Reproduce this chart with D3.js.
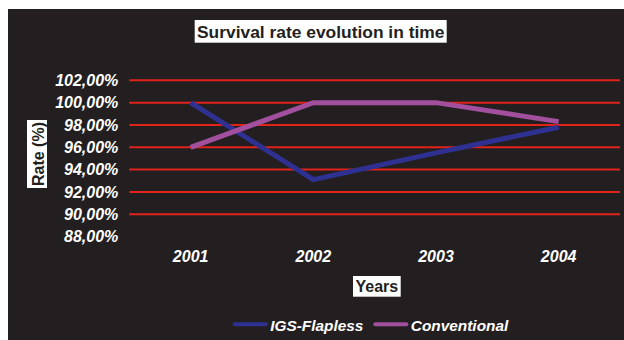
<!DOCTYPE html>
<html><head><meta charset="utf-8">
<script src="https://cdn.jsdelivr.net/npm/d3@7"></script>
<style>html,body{margin:0;padding:0;background:#fff;}svg{display:block;}</style>
</head><body>
<script>
const years = ["2001", "2002", "2003", "2004"];
const igsFlapless = [100.0, 93.1, 95.5, 97.8];
const conventional = [96.0, 100.0, 100.0, 98.3];
const yTicks = [88, 90, 92, 94, 96, 98, 100, 102];
const seriesNames = ["IGS-Flapless", "Conventional"];
const seriesColors = ["#2e3192", "#a24f9e"];
const titleText = "Survival rate evolution in time";
const yTitle = "Rate (%)";
const xTitle = "Years";

const W = 624, H = 340;
const svg = d3.select("body").append("svg").attr("width", W).attr("height", H);
svg.append("rect").attr("x", 8).attr("y", 9).attr("width", W - 8).attr("height", H - 9).attr("fill", "#231f20");

const x = d3.scaleBand().domain(years).range([129.3, 620]);
const y = d3.scaleLinear().domain([88, 102]).range([236.6, 80.3]);
const font = "Liberation Sans, Arial, Helvetica, sans-serif";

// gridlines
svg.append("g").selectAll("line").data(yTicks.filter(d => d > 88)).join("line")
  .attr("x1", 129.3).attr("x2", 620).attr("y1", d => y(d)).attr("y2", d => y(d))
  .attr("stroke", "#e2231a").attr("stroke-width", 2);

// y axis labels
const yAxis = d3.axisLeft(y).tickValues(yTicks).tickSize(0).tickPadding(11)
  .tickFormat(d => d3.format(".2f")(d).replace(".", ",") + "%");
const gy = svg.append("g").attr("transform", "translate(129.3,0)").call(yAxis);
gy.select(".domain").remove();
gy.selectAll("text").attr("fill", "#fff").attr("font-family", font).attr("font-size", 16)
  .attr("font-weight", "bold").attr("font-style", "italic");

// x axis labels
const xAxis = d3.axisBottom(x).tickSize(0).tickPadding(0);
const gx = svg.append("g").attr("transform", "translate(0,251)").call(xAxis);
gx.select(".domain").remove();
gx.selectAll("text").attr("fill", "#fff").attr("font-family", font).attr("font-size", 16)
  .attr("font-weight", "bold").attr("font-style", "italic");

// lines
const line = d3.line().x((d, i) => x(years[i]) + x.bandwidth() / 2).y(d => y(d));
[igsFlapless, conventional].forEach((s, k) => {
  svg.append("path").datum(s).attr("d", line).attr("fill", "none")
    .attr("stroke", seriesColors[k]).attr("stroke-width", 5).attr("stroke-linejoin", "miter");
});

// title
svg.append("rect").attr("x", 194.7).attr("y", 20).attr("width", 252).attr("height", 22.7).attr("fill", "#fff");
svg.append("text").attr("x", 320.7).attr("y", 37.5).attr("text-anchor", "middle")
  .attr("font-family", font).attr("font-size", 17.4).attr("font-weight", "bold").attr("fill", "#231f20").text(titleText);

// y title
svg.append("rect").attr("x", 27).attr("y", 120).attr("width", 20).attr("height", 68).attr("fill", "#fff");
svg.append("text").attr("transform", "translate(43.5,154) rotate(-90)").attr("text-anchor", "middle")
  .attr("font-family", font).attr("font-size", 16).attr("font-weight", "bold").attr("fill", "#231f20").text(yTitle);

// x title
svg.append("rect").attr("x", 353).attr("y", 276).attr("width", 47.7).attr("height", 20.7).attr("fill", "#fff");
svg.append("text").attr("x", 376.9).attr("y", 292).attr("text-anchor", "middle")
  .attr("font-family", font).attr("font-size", 16).attr("font-weight", "bold").attr("fill", "#231f20").text(xTitle);

// legend
const legX = [232.7, 373.3];
seriesNames.forEach((n, k) => {
  svg.append("line").attr("x1", legX[k] + 2).attr("x2", legX[k] + 33).attr("y1", 324.3).attr("y2", 324.3)
    .attr("stroke", seriesColors[k]).attr("stroke-width", 4).attr("stroke-linecap", "round");
  svg.append("text").attr("x", legX[k] + 37.5).attr("y", 331).attr("font-family", font).attr("font-size", 15.4)
    .attr("font-weight", "bold").attr("font-style", "italic").attr("fill", "#fff").text(n);
});
</script>
</body></html>
